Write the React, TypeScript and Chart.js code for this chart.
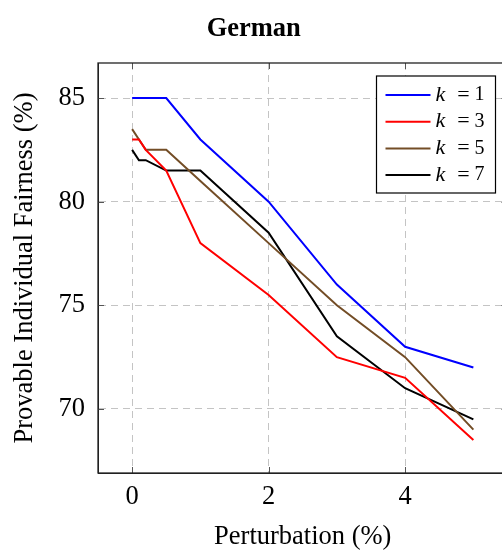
import React, { useEffect, useRef } from "react";
import { Chart, registerables } from "chart.js";

Chart.register(...registerables);

const xValues = [0, 0.1, 0.2, 0.5, 1, 2, 3, 4, 5];
const k1Values = [85, 85, 85, 85, 83, 80, 76, 73, 72];
const k3Values = [83, 83, 82.5, 81.5, 78, 75.5, 72.5, 71.5, 68.5];
const k5Values = [83.5, 83, 82.5, 82.5, 81, 78, 75, 72.5, 69];
const k7Values = [82.5, 82, 82, 81.5, 81.5, 78.5, 73.5, 71, 69.5];
const seriesKs = ["1", "3", "5", "7"];
const seriesColors = ["#0000ff", "#ff0000", "#734d26", "#000000"];
const xTicks = [0, 2, 4];
const yTicks = [70, 75, 80, 85];

const FONT = "'Liberation Serif', 'Times New Roman', serif";
const W = 520;
const H = 552;

const framePlugin = {
  id: "frame",
  afterDatasetsDraw(chart: any) {
    const { ctx, chartArea: ca, scales } = chart;
    ctx.save();
    ctx.strokeStyle = "#555";
    ctx.lineWidth = 1;
    ctx.beginPath();
    for (const v of xTicks) {
      const px = Math.round(scales.x.getPixelForValue(v)) + 0.5;
      ctx.moveTo(px, ca.bottom);
      ctx.lineTo(px, ca.bottom - 6);
      ctx.moveTo(px, ca.top);
      ctx.lineTo(px, ca.top + 6);
    }
    for (const v of yTicks) {
      const py = Math.round(scales.y.getPixelForValue(v)) + 0.5;
      ctx.moveTo(ca.left, py);
      ctx.lineTo(ca.left + 6, py);
      ctx.moveTo(ca.right, py);
      ctx.lineTo(ca.right - 6, py);
    }
    ctx.stroke();
    ctx.strokeStyle = "#222";
    ctx.lineWidth = 1.3;
    ctx.strokeRect(ca.left, ca.top, ca.right - ca.left, ca.bottom - ca.top);
    ctx.restore();
  },
  afterDraw(chart: any) {
    const { ctx, chartArea: ca } = chart;
    const boxW = 119;
    const boxH = 117;
    const boxRight = ca.right - 12;
    const boxLeft = boxRight - boxW;
    const boxTop = ca.top + 13;
    ctx.save();
    ctx.fillStyle = "#fff";
    ctx.fillRect(boxLeft, boxTop, boxW, boxH);
    ctx.strokeStyle = "#000";
    ctx.lineWidth = 1.2;
    ctx.strokeRect(boxLeft, boxTop, boxW, boxH);
    chart.data.datasets.forEach((ds: any, i: number) => {
      const cy = boxTop + 19 + i * 26.7;
      ctx.strokeStyle = ds.borderColor;
      ctx.lineWidth = 2;
      ctx.beginPath();
      ctx.moveTo(boxLeft + 9, cy);
      ctx.lineTo(boxLeft + 54, cy);
      ctx.stroke();
      ctx.fillStyle = "#000";
      ctx.textBaseline = "middle";
      ctx.textAlign = "left";
      ctx.font = `italic 22px ${FONT}`;
      ctx.fillText("k", boxLeft + 59, cy);
      ctx.textAlign = "center";
      ctx.font = `22px ${FONT}`;
      ctx.fillText("=", boxLeft + 87, cy);
      ctx.textAlign = "left";
      ctx.font = `20px ${FONT}`;
      ctx.fillText(seriesKs[i], boxLeft + 98, cy);
    });
    ctx.restore();
  },
};

export default function App() {
  const ref = useRef<HTMLCanvasElement | null>(null);
  useEffect(() => {
    if (!ref.current) return;
    const series = [k1Values, k3Values, k5Values, k7Values];
    const chart = new Chart(ref.current, {
      type: "line",
      data: {
        datasets: series.map((vals, i) => ({
          label: "k = " + seriesKs[i],
          data: xValues.map((x, j) => ({ x, y: vals[j] })),
          borderColor: seriesColors[i],
          backgroundColor: seriesColors[i],
          borderWidth: 2,
          pointRadius: 0,
          tension: 0,
          fill: false,
        })),
      },
      options: {
        responsive: false,
        animation: false,
        devicePixelRatio: 1,
        layout: { padding: { left: 0, right: W - 507.5, top: 0, bottom: 0 } },
        plugins: {
          legend: { display: false },
          tooltip: { enabled: false },
          title: {
            display: true,
            text: "German",
            color: "#000",
            font: { family: FONT, size: 26.5, weight: "bold" },
            padding: { top: 13, bottom: 18.2 },
          },
        },
        scales: {
          x: {
            type: "linear",
            min: -0.5,
            max: 5.5,
            afterBuildTicks: (s: any) => {
              s.ticks = xTicks.map((v) => ({ value: v }));
            },
            afterFit: (s: any) => {
              s.height = 79;
            },
            ticks: {
              color: "#000",
              font: { family: FONT, size: 26.5 },
              padding: 8,
              maxRotation: 0,
              callback: (v: any) => String(v),
            },
            grid: { color: "#c4c4c4", lineWidth: 1, drawTicks: false },
            border: { display: true, color: "#222", width: 1, dash: [7, 5] },
            title: {
              display: true,
              text: "Perturbation (%)",
              color: "#000",
              font: { family: FONT, size: 26.5 },
              padding: { top: 0, bottom: -1 },
            },
          },
          y: {
            type: "linear",
            min: 66.91,
            max: 86.69,
            afterBuildTicks: (s: any) => {
              s.ticks = yTicks.map((v) => ({ value: v }));
            },
            afterFit: (s: any) => {
              s.width = 98;
            },
            ticks: {
              color: "#000",
              font: { family: FONT, size: 26.5 },
              padding: 13,
              callback: (v: any) => String(v),
            },
            grid: { color: "#c4c4c4", lineWidth: 1, drawTicks: false },
            border: { display: true, color: "#222", width: 1, dash: [7, 5] },
            title: {
              display: true,
              text: "Provable Individual Fairness (%)",
              color: "#000",
              font: { family: FONT, size: 26.5 },
              padding: { top: 9, bottom: 0 },
            },
          },
        },
      },
      plugins: [framePlugin],
    } as any);
    return () => chart.destroy();
  }, []);
  return (
    <div
      style={{
        position: "fixed",
        left: 0,
        top: 0,
        width: W,
        height: H,
        background: "#fff",
      }}
    >
      <canvas ref={ref} width={W} height={H} style={{ width: W, height: H, display: "block" }} />
    </div>
  );
}
